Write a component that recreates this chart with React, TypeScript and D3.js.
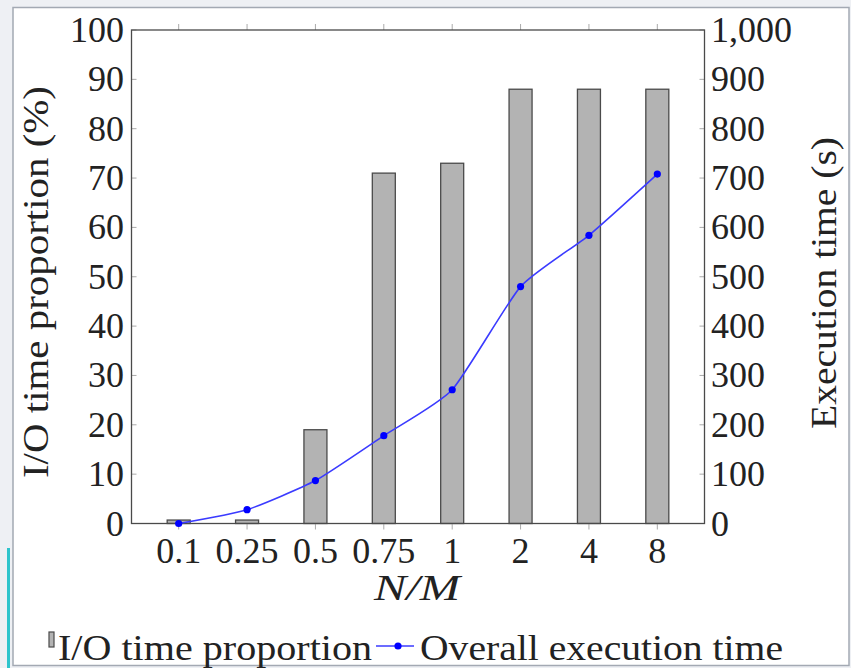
import { useEffect, useRef } from 'react'
import * as d3 from 'd3'

const categories = ['0.1', '0.25', '0.5', '0.75', '1', '2', '4', '8']
const ioProportion = [0.7, 0.7, 19, 71, 73, 88, 88, 88]
const execTime = [0, 28, 87, 178, 271, 480, 584, 708]
const leftTicks = [0, 10, 20, 30, 40, 50, 60, 70, 80, 90, 100]
const rightTicks = [0, 100, 200, 300, 400, 500, 600, 700, 800, 900, 1000]

const FONT = '"Liberation Serif", "DejaVu Serif", serif'
const FS = 36

export default function App() {
  const svgRef = useRef<SVGSVGElement>(null)

  useEffect(() => {
    const width = 851, height = 668
    const svg = d3.select(svgRef.current)
    svg.selectAll('*').remove()
    svg.attr('width', width).attr('height', height)

    // page frame
    svg.append('rect').attr('width', width).attr('height', height).attr('fill', '#eef0f4')
    svg.append('rect').attr('x', 7).attr('y', 548).attr('width', 3).attr('height', 120).attr('fill', '#2ec4cc')
    svg.append('rect')
      .attr('x', 13).attr('y', 7.5).attr('width', 836).attr('height', 658)
      .attr('fill', 'white').attr('stroke', '#a3a9b3').attr('stroke-width', 1.5)

    const left = 131.5, right = 704.5, top = 30, bottom = 523.5

    const x = d3.scalePoint().domain(categories).range([left, right]).padding(0.69)
    const yL = d3.scaleLinear().domain([0, 100]).range([bottom, top])
    const yR = d3.scaleLinear().domain([0, 1000]).range([bottom, top])

    const g = svg.append('g')
    const tickColor = '#aaa'
    const txt = (s: string) => g.append('text').text(s)
      .attr('font-family', FONT).attr('font-size', FS).attr('fill', '#222')

    // bars
    const barW = 23
    g.selectAll('.bar').data(ioProportion).enter().append('rect')
      .attr('x', (d, i) => x(categories[i])! - barW / 2)
      .attr('y', d => yL(d))
      .attr('width', barW)
      .attr('height', d => bottom - yL(d))
      .attr('fill', '#b3b3b3')
      .attr('stroke', '#4a4a4a')
      .attr('stroke-width', 1.3)

    // x ticks (outside, top and bottom)
    categories.forEach(c => {
      g.append('line').attr('x1', x(c)!).attr('x2', x(c)!).attr('y1', bottom).attr('y2', bottom + 6)
        .attr('stroke', tickColor).attr('stroke-width', 1)
      g.append('line').attr('x1', x(c)!).attr('x2', x(c)!).attr('y1', top).attr('y2', top - 6)
        .attr('stroke', tickColor).attr('stroke-width', 1)
      txt(c).attr('x', x(c)!).attr('y', 563).attr('text-anchor', 'middle')
    })

    // y ticks (inside)
    leftTicks.forEach(t => {
      g.append('line').attr('x1', left).attr('x2', left + 5).attr('y1', yL(t)).attr('y2', yL(t))
        .attr('stroke', tickColor).attr('stroke-width', 1)
      txt(String(t)).attr('x', 124).attr('y', yL(t) + 12).attr('text-anchor', 'end')
    })
    rightTicks.forEach(t => {
      g.append('line').attr('x1', right).attr('x2', right - 5).attr('y1', yR(t)).attr('y2', yR(t))
        .attr('stroke', tickColor).attr('stroke-width', 1)
      txt(d3.format(',')(t)).attr('x', 711).attr('y', yR(t) + 12).attr('text-anchor', 'start')
    })

    // axis box
    g.append('rect')
      .attr('x', left).attr('y', top).attr('width', right - left).attr('height', bottom - top)
      .attr('fill', 'none').attr('stroke', '#4a4a4a').attr('stroke-width', 1.3)

    // line
    const line = d3.line<number>()
      .x((d, i) => x(categories[i])!)
      .y(d => yR(d))
      .curve(d3.curveCardinal.tension(0.45))
    g.append('path').datum(execTime)
      .attr('d', line)
      .attr('fill', 'none')
      .attr('stroke', '#3b3bff')
      .attr('stroke-width', 1.6)
    g.selectAll('.dot').data(execTime).enter().append('circle')
      .attr('cx', (d, i) => x(categories[i])!)
      .attr('cy', d => yR(d))
      .attr('r', 3.6)
      .attr('fill', '#0000ff')

    // axis labels
    txt('I/O time proportion (%)')
      .attr('transform', 'translate(48,282) rotate(-90)')
      .attr('text-anchor', 'middle')
      .attr('textLength', 392).attr('lengthAdjust', 'spacingAndGlyphs')
    txt('Execution time (s)')
      .attr('transform', 'translate(836,283) rotate(-90)')
      .attr('text-anchor', 'middle')
      .attr('textLength', 292).attr('lengthAdjust', 'spacingAndGlyphs')
    txt('N/M')
      .attr('x', 417).attr('y', 600)
      .attr('text-anchor', 'middle')
      .attr('font-style', 'italic')
      .attr('textLength', 86).attr('lengthAdjust', 'spacingAndGlyphs')

    // legend
    g.append('rect').attr('x', 49).attr('y', 632).attr('width', 5).attr('height', 15)
      .attr('fill', '#b3b3b3').attr('stroke', '#4a4a4a').attr('stroke-width', 1.2)
    txt('I/O time proportion')
      .attr('x', 58).attr('y', 660)
      .attr('textLength', 314).attr('lengthAdjust', 'spacingAndGlyphs')
    g.append('line').attr('x1', 376).attr('x2', 414).attr('y1', 646).attr('y2', 646)
      .attr('stroke', '#3b3bff').attr('stroke-width', 1.6)
    g.append('circle').attr('cx', 398).attr('cy', 646).attr('r', 3.6).attr('fill', '#0000ff')
    txt('Overall execution time')
      .attr('x', 420).attr('y', 660)
      .attr('textLength', 363).attr('lengthAdjust', 'spacingAndGlyphs')
  }, [])

  return (
    <div style={{ position: 'fixed', left: 0, top: 0 }}>
      <svg ref={svgRef} style={{ display: 'block' }} />
    </div>
  )
}
